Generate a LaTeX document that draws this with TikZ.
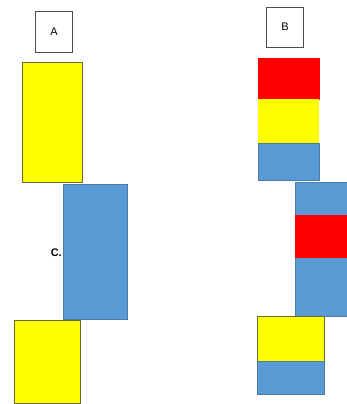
\documentclass[tikz,border=0pt]{standalone}
\usepackage{fontspec}
\setmainfont{Liberation Sans}
\definecolor{cblue}{HTML}{5B9BD5}
\definecolor{cyel}{HTML}{FFFF00}
\definecolor{cred}{HTML}{FF0000}
\definecolor{edgeY}{HTML}{6B6B3A}
\begin{document}
\begin{tikzpicture}[x=1pt,y=-1pt,
  seg/.style={rectangle,inner sep=0pt,outer sep=0pt,line width=0.7pt},
  yel/.style={seg,fill=cyel,draw=edgeY},
  yelnb/.style={seg,fill=cyel},
  blu/.style={seg,fill=cblue,draw=cblue!80!black},
  rd/.style={seg,fill=cred,draw=cred},
  lbl/.style={draw=black!70,line width=0.6pt,fill=white,inner sep=0pt,font=\fontsize{11}{13}\selectfont}]
\useasboundingbox[fill=white] (0,0) rectangle (347,404);
\clip (0,0) rectangle (347,404);
% labels
\node[lbl,minimum width=37,minimum height=41] (la) at (54,32) {A};
\node[lbl,minimum width=37,minimum height=40] (lb) at (285,27) {B};
% left column
\node[yel,minimum width=60,minimum height=120] (ya1) at (52,122) {};
\node[blu,minimum width=64,minimum height=135] (ba1) at (95,251.5) {};
\node[font=\fontsize{11}{13}\selectfont\bfseries,anchor=east,inner sep=0pt] (c) at (62,253) {C.};
\node[yel,minimum width=66,minimum height=83] (ya2) at (47,361.5) {};
% right stack 1
\node[rd,minimum width=61,minimum height=41] (rb1) at (288.5,78.5) {};
\node[yelnb,minimum width=61,minimum height=44] (yb1) at (288.5,121) {};
\node[blu,minimum width=61,minimum height=37] (bb1) at (288.5,161.5) {};
% right stack 2
\node[blu,minimum width=65,minimum height=134] (bb2) at (327.5,249) {};
\node[rd,minimum width=65,minimum height=42] (rb2) at (327.5,236) {};
% right stack 3
\node[yel,minimum width=67,minimum height=45] (yb3) at (290.5,338.5) {};
\node[blu,minimum width=67,minimum height=33] (bb3) at (290.5,377.5) {};
\end{tikzpicture}
\end{document}
